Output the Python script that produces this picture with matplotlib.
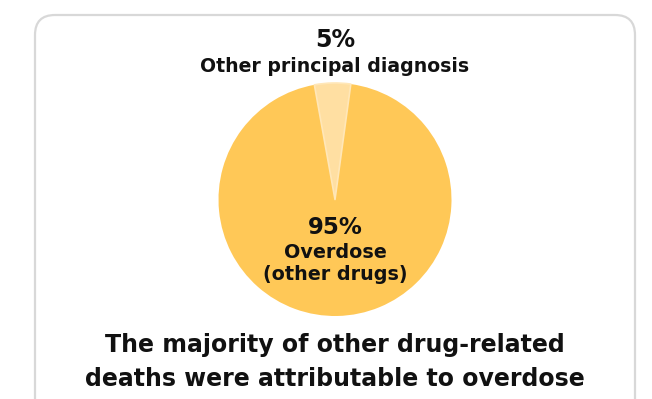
import matplotlib
matplotlib.use("Agg")
import matplotlib.pyplot as plt
from matplotlib.patches import FancyBboxPatch

# Share of other drug-related deaths by principal diagnosis
labels = ["Other principal diagnosis", "Overdose", "(other drugs)"]
shares = [5, 95]
pct_labels = ["5%", "95%"]
colors = ["#FFDFA2", "#FFC857"]
title_lines = ["The majority of other drug-related",
               "deaths were attributable to overdose"]

W, H = 652, 399
fig = plt.figure(figsize=(W / 100, H / 100), dpi=100)
ax = fig.add_axes([0, 0, 1, 1])
plt.rcParams["font.family"] = ["DejaVu Sans"]


def Y(y):
    # top-down pixel row -> axes y
    return H - y


# card outline
card = FancyBboxPatch((35, Y(440)), 600, 425,
                      boxstyle="round,pad=0,rounding_size=20",
                      facecolor="white", edgecolor="#D8D8D8", linewidth=1.6)
ax.add_patch(card)

# pie: small slice centred just left of 12 o'clock
span = shares[0] / sum(shares) * 360
start = 91.2 + span / 2
wedges, _ = ax.pie(shares, colors=colors, startangle=start, counterclock=False,
                   center=(335, Y(199.5)), radius=116.5,
                   wedgeprops=dict(linewidth=0))
# soft rounded outline on the small slice only
wedges[0].set_edgecolor("#FFE7B8")
wedges[0].set_linewidth(1.2)
wedges[0].set_joinstyle("round")
wedges[0].set_zorder(wedges[1].get_zorder() + 1)

ax.set_xlim(0, W)
ax.set_ylim(0, H)
ax.set_aspect("auto")
ax.axis("off")

ink = "#111111"
ax.text(335, Y(40), pct_labels[0], ha="center", va="center",
        fontsize=17, fontweight="bold", color=ink)
ax.text(335, Y(66), labels[0], ha="center", va="center",
        fontsize=13.6, fontweight="bold", color=ink)

ax.text(335, Y(227), pct_labels[1], ha="center", va="center",
        fontsize=16.5, fontweight="bold", color=ink)
ax.text(335, Y(252), labels[1], ha="center", va="center",
        fontsize=13.8, fontweight="bold", color=ink)
ax.text(335, Y(274), labels[2], ha="center", va="center",
        fontsize=13.8, fontweight="bold", color=ink)

ax.text(335, Y(345), title_lines[0], ha="center", va="center",
        fontsize=17, fontweight="bold", color=ink)
ax.text(335, Y(379), title_lines[1], ha="center", va="center",
        fontsize=17, fontweight="bold", color=ink)

fig.savefig("out.png", dpi=100)
